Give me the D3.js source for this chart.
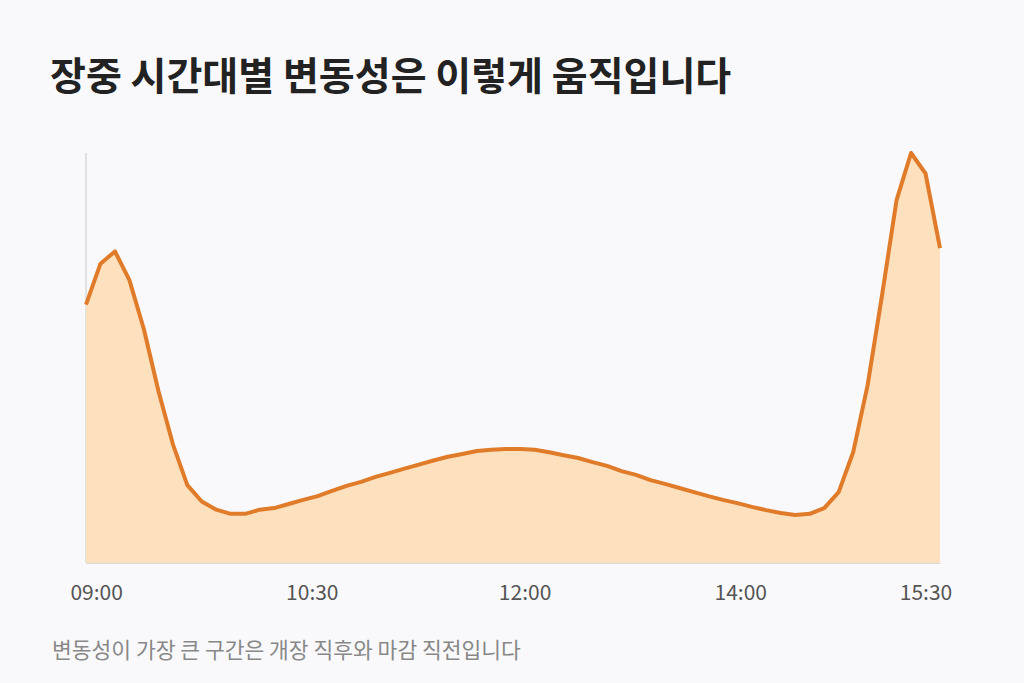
<!DOCTYPE html><html><head><meta charset="utf-8">
<script src="https://cdn.jsdelivr.net/npm/d3@7"></script>
<style>body{margin:0;background:#f9f9fb;font-family:"Noto Sans CJK KR","Noto Sans",sans-serif}</style></head><body>
<svg id="c" width="1024" height="683"></svg>
<script>
const values=[63,73,76,69,57,42,29,19,15,13,12,12,13,13.4,14.4,15.4,16.3,17.6,18.8,19.8,21,22,23,24,25,25.9,26.6,27.3,27.6,27.8,27.8,27.6,27,26.3,25.6,24.6,23.7,22.4,21.5,20.2,19.3,18.3,17.3,16.3,15.4,14.6,13.7,12.9,12.2,11.7,12,13.4,17.3,27,43.4,65.4,88.5,100,95,76.8];
const tickLabels=["09:00","10:30","12:00","14:00","15:30"];
const tickPos=[0.7,15.6,30.3,45.2,58];
const svg=d3.select("#c");
svg.append("rect").attr("width",1024).attr("height",683).attr("fill","#f9f9fb");
const x=d3.scaleLinear().domain([0,values.length-1]).range([86,940]);
const y=d3.scaleLinear().domain([0,100]).range([563,153]);
svg.append("text").attr("x",50).attr("y",90).attr("font-size",39).attr("font-weight",700).attr("fill","#222").text("장중 시간대별 변동성은 이렇게 움직입니다");
svg.append("line").attr("x1",86).attr("x2",86).attr("y1",153).attr("y2",563).attr("stroke","#c8c8c8");
svg.append("path").datum(values).attr("fill","#fde0bd").attr("d",d3.area().x((d,i)=>x(i)).y0(y(0)).y1(d=>y(d)));
svg.append("path").datum(values).attr("fill","none").attr("stroke","#e07b2a").attr("stroke-width",4).attr("stroke-linejoin","round").attr("d",d3.line().x((d,i)=>x(i)).y(d=>y(d)));
const ax=svg.append("g").attr("transform","translate(0,563)").call(d3.axisBottom(x).tickValues(tickPos).tickFormat((d,i)=>tickLabels[i]).tickSize(0).tickPadding(22));
ax.select(".domain").attr("stroke","#d8d8d8");
ax.selectAll("text").attr("font-size",21).attr("fill","#555").attr("font-family","'Noto Sans CJK KR',sans-serif");
svg.append("text").attr("x",52).attr("y",658).attr("font-size",21.5).attr("fill","#888").text("변동성이 가장 큰 구간은 개장 직후와 마감 직전입니다");
</script></body></html>
